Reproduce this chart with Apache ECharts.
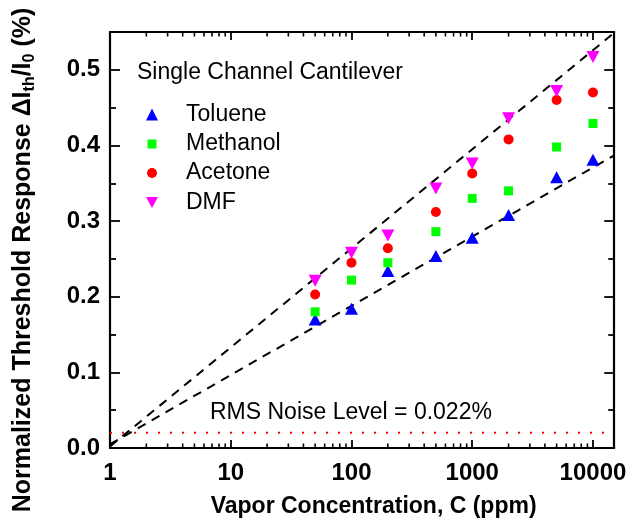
<!DOCTYPE html>
<html>
<head>
<meta charset="utf-8">
<script src="https://cdn.jsdelivr.net/npm/echarts@6/dist/echarts.min.js"></script>
<style>
html,body{margin:0;padding:0;background:#fff;}
#chart{width:629px;height:529px;}
</style>
</head>
<body>
<div id="chart"></div>
<script>
// ---- data ----
const concentrations = [50, 100, 200, 500, 1000, 2000, 5000, 10000];
const toluene  = [0.170, 0.184, 0.234, 0.254, 0.278, 0.308, 0.358, 0.381];
const methanol = [0.180, 0.222, 0.245, 0.286, 0.330, 0.340, 0.398, 0.429];
const acetone  = [0.203, 0.245, 0.264, 0.312, 0.363, 0.408, 0.460, 0.470];
const dmf      = [0.221, 0.258, 0.281, 0.343, 0.376, 0.436, 0.472, 0.517];
const upperFit = [[1, 0.002], [15000, 0.549]];
const lowerFit = [[1, 0.005], [15000, 0.387]];
const noiseLine = [[1, 0.02], [15000, 0.02]];
const xTickLabels = ['1', '10', '100', '1000', '10000'];
const yTickLabels = ['0.0', '0.1', '0.2', '0.3', '0.4', '0.5'];
const decades = [1, 10, 100, 1000];
const minorMultipliers = [2, 3, 4, 5, 6, 7, 8, 9];

const X_MIN = 1, X_MAX = 15000, Y_MIN = 0, Y_MAX = 0.55;

const minorTicks = [];
decades.forEach(d => minorMultipliers.forEach(m => minorTicks.push([d * m, 0])));

const pair = arr => concentrations.map((c, i) => [c, arr[i]]);

const chart = echarts.init(document.getElementById('chart'), null, {renderer: 'canvas'});

const FONT = 'Liberation Sans, Arial, Helvetica, sans-serif';
const frame = {show: true, onZero: false, lineStyle: {color: '#000', width: 2.2}};

const xBase = {
  type: 'log', logBase: 10, min: X_MIN, max: X_MAX,
  axisLine: frame,
  axisTick: {show: true, inside: true, length: 8, lineStyle: {color: '#000', width: 1.8}},
  splitLine: {show: false}, minorTick: {show: false}, minorSplitLine: {show: false}
};
const yBase = {
  type: 'value', min: Y_MIN, max: Y_MAX, interval: 0.1,
  axisLine: frame,
  axisTick: {show: true, inside: true, length: 10, lineStyle: {color: '#000', width: 1.8}},
  minorTick: {show: true, splitNumber: 2, length: 6, lineStyle: {color: '#000', width: 1.8}},
  splitLine: {show: false}, minorSplitLine: {show: false}
};

// legend markers centred at x=152, text starting at x=186
function legendFor(name, centerY, size) {
  return {
    data: [name], orient: 'vertical', left: 152 - size / 2, top: centerY - 12, padding: 0,
    itemWidth: size, itemHeight: size, selectedMode: false,
    textStyle: {fontFamily: FONT, fontSize: 23, color: '#000', lineHeight: 24,
      padding: [0, 0, 0, 186 - (152 + size / 2 + 5)]}
  };
}

const option = {
  animation: false,
  backgroundColor: '#fff',
  grid: {left: 102, right: 12, top: 32, bottom: 81, containLabel: false},
  title: [
    {text: 'Single Channel Cantilever', left: 137, top: 61, padding: 0,
     textStyle: {fontFamily: FONT, fontSize: 23, fontWeight: 'normal', color: '#000'}},
    {text: 'RMS Noise Level = 0.022%', left: 210, top: 401, padding: 0,
     textStyle: {fontFamily: FONT, fontSize: 23, fontWeight: 'normal', color: '#000'}}
  ],
  legend: [
    legendFor('Toluene', 114.5, 12),
    legendFor('Methanol', 144, 9),
    legendFor('Acetone', 173, 10),
    legendFor('DMF', 202.5, 12)
  ],
  xAxis: [
    Object.assign({}, xBase, {
      position: 'bottom',
      name: 'Vapor Concentration, C (ppm)', nameLocation: 'middle', nameGap: 47,
      nameTextStyle: {fontFamily: FONT, fontSize: 23, fontWeight: 'bold', color: '#000', padding: [0, 0, 0, 23]},
      axisLabel: {show: true, margin: 13, fontFamily: FONT, fontSize: 24, fontWeight: 'bold', color: '#000',
        showMaxLabel: false,
        formatter: v => { const i = Math.round(Math.log10(v)); return (Math.abs(Math.log10(v) - i) < 1e-6 && xTickLabels[i]) ? xTickLabels[i] : ''; }}
    }),
    Object.assign({}, xBase, {position: 'top', axisLabel: {show: false}})
  ],
  yAxis: [
    Object.assign({}, yBase, {
      position: 'left',
      name: '{a|Normalized Threshold Response ΔI}{s|th}{a|/I}{s|0}{a| (%)}',
      nameLocation: 'middle', nameGap: 71,
      nameTextStyle: {fontFamily: FONT, fontSize: 25, fontWeight: 'bold', color: '#000', padding: [0, 40, 0, 0],
        rich: {
          a: {fontFamily: FONT, fontSize: 25, fontWeight: 'bold', color: '#000', lineHeight: 32},
          s: {fontFamily: FONT, fontSize: 16, fontWeight: 'bold', color: '#000', lineHeight: 32, padding: [14, 0, 0, 0]}
        }},
      axisLabel: {show: true, margin: 10, fontFamily: FONT, fontSize: 24, fontWeight: 'bold', color: '#000',
        showMaxLabel: false,
        formatter: v => { const i = Math.round(v * 10); return (Math.abs(v * 10 - i) < 1e-6 && yTickLabels[i]) ? yTickLabels[i] : ''; }}
    }),
    Object.assign({}, yBase, {position: 'right', axisLabel: {show: false}})
  ],
  series: [
    {name: 'upperFit', type: 'line', data: upperFit, showSymbol: false, silent: true, z: 1,
     lineStyle: {color: '#000', width: 2, type: [9, 7]}},
    {name: 'lowerFit', type: 'line', data: lowerFit, showSymbol: false, silent: true, z: 1,
     lineStyle: {color: '#000', width: 2, type: [9, 7]}},
    {name: 'noise', type: 'line', data: noiseLine, showSymbol: false, silent: true, z: 1,
     lineStyle: {color: '#ff0000', width: 2, type: [2, 10]}},
    {name: 'Toluene', type: 'scatter', data: pair(toluene), symbol: 'triangle', symbolSize: [13, 12],
     itemStyle: {color: '#0000ff', opacity: 1}, z: 3},
    {name: 'Methanol', type: 'scatter', data: pair(methanol), symbol: 'rect', symbolSize: 9,
     itemStyle: {color: '#00ff00', opacity: 1}, z: 3},
    {name: 'Acetone', type: 'scatter', data: pair(acetone), symbol: 'circle', symbolSize: 10,
     itemStyle: {color: '#ff0000', opacity: 1}, z: 3},
    {name: 'DMF', type: 'scatter', data: pair(dmf), symbol: 'path://M0,0L10,0L5,9Z', symbolSize: [13, 12],
     itemStyle: {color: '#ff00ff', opacity: 1}, z: 4},
    {name: 'minorTicks', type: 'custom', data: minorTicks, silent: true, clip: false, z: 5,
     renderItem: function (params, api) {
       const v = api.value(0);
       const b = api.coord([v, Y_MIN]);
       const t = api.coord([v, Y_MAX]);
       const st = {stroke: '#000', lineWidth: 1.6};
       return {type: 'group', children: [
         {type: 'line', shape: {x1: b[0], y1: b[1], x2: b[0], y2: b[1] - 4.5}, style: st},
         {type: 'line', shape: {x1: t[0], y1: t[1], x2: t[0], y2: t[1] + 4.5}, style: st}
       ]};
     }}
  ]
};
chart.setOption(option);
</script>
</body>
</html>
